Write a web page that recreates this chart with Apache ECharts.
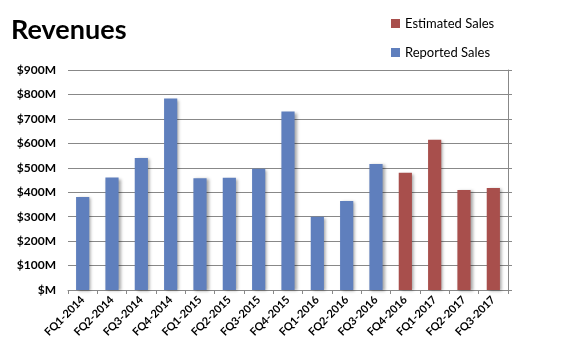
<!DOCTYPE html>
<html><head><meta charset="utf-8">
<script src="https://cdn.jsdelivr.net/npm/echarts@6/dist/echarts.min.js"></script>
<style>html,body{margin:0;padding:0;background:#fff}#c{width:576px;height:356px}</style>
</head><body><div id="c"></div>
<script>
const categories = ['FQ1-2014','FQ2-2014','FQ3-2014','FQ4-2014','FQ1-2015','FQ2-2015','FQ3-2015','FQ4-2015','FQ1-2016','FQ2-2016','FQ3-2016','FQ4-2016','FQ1-2017','FQ2-2017','FQ3-2017'];
const reported = [380, 460, 540, 783, 457, 459, 496, 730, 300, 364, 515, null, null, null, null];
const estimated = [null, null, null, null, null, null, null, null, null, null, null, 480, 615, 409, 417];
const yTicks = [0, 100, 200, 300, 400, 500, 600, 700, 800, 900];

const chart = echarts.init(document.getElementById('c'));
const font = 'Lato, "Open Sans", sans-serif';
const shadow = {shadowBlur: 3, shadowOffsetX: 2, shadowOffsetY: 1, shadowColor: 'rgba(0,0,0,0.35)'};
chart.setOption({
  animation: false,
  title: {text: 'Revenues', left: 6, top: 12, textStyle: {fontFamily: font, fontWeight: 'bold', fontSize: 27, color: '#000'}},
  legend: {
    orient: 'vertical', left: 386, top: 12, itemGap: 16, itemWidth: 9, itemHeight: 9,
    icon: 'rect',
    textStyle: {fontFamily: font, fontSize: 13, color: '#000'},
    data: ['Estimated Sales', 'Reported Sales']
  },
  grid: {left: 68, right: 68, top: 70, bottom: 66},
  xAxis: {
    type: 'category', data: categories,
    axisLine: {lineStyle: {color: '#888'}},
    axisTick: {show: true, alignWithLabel: false, length: 4, lineStyle: {color: '#888'}},
    axisLabel: {rotate: 45, interval: 0, fontFamily: font, fontWeight: 'bold', fontSize: 11, color: '#000', margin: 8}
  },
  yAxis: [{
    type: 'value', min: yTicks[0], max: yTicks[yTicks.length - 1], interval: 100,
    axisLine: {show: false}, axisTick: {show: false},
    splitLine: {lineStyle: {color: '#888'}},
    axisLabel: {fontFamily: font, fontWeight: 'bold', fontSize: 12, color: '#000', margin: 12,
      formatter: v => v === 0 ? '$M' : '$' + v + 'M'}
  }, {
    type: 'value', position: 'right', min: yTicks[0], max: yTicks[yTicks.length - 1], interval: 100,
    axisLine: {show: true, lineStyle: {color: '#888'}},
    axisTick: {show: true, length: 4, lineStyle: {color: '#888'}},
    splitLine: {show: false}, axisLabel: {show: false}
  }],
  series: [{
    name: 'Reported Sales', type: 'bar', data: reported, barWidth: '45%', barGap: '-100%',
    itemStyle: Object.assign({color: '#5f7fbd'}, shadow)
  }, {
    name: 'Estimated Sales', type: 'bar', data: estimated, barWidth: '45%',
    itemStyle: Object.assign({color: '#a84f4c'}, shadow)
  }]
});
</script></body></html>
